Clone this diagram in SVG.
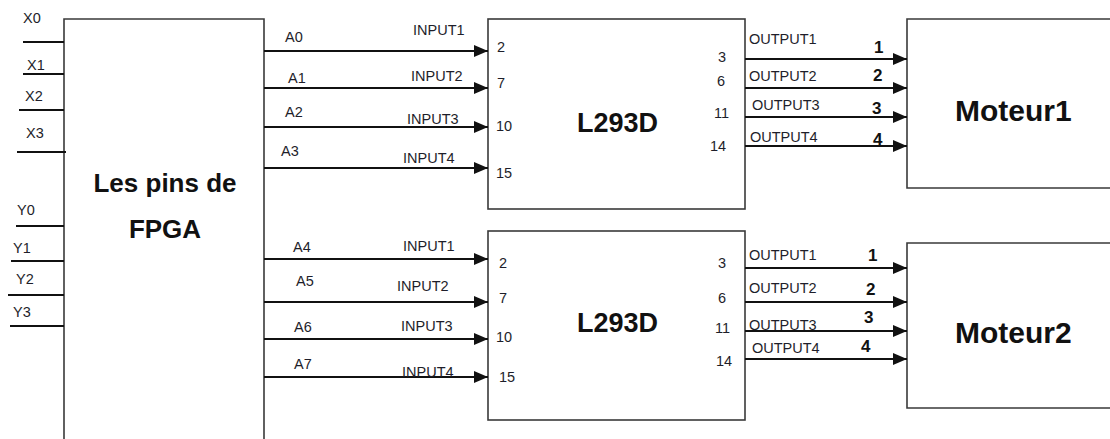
<svg xmlns="http://www.w3.org/2000/svg" width="1110" height="439" viewBox="0 0 1110 439">
<style>
.box{fill:#fff;stroke:#3a3a3a;stroke-width:1.6}
.w{stroke:#111;stroke-width:2;fill:none}
.a{stroke:#111;stroke-width:2;fill:none;marker-end:url(#ah)}
.s{font-family:"Liberation Sans",Arial,sans-serif;font-size:14.5px;fill:#1e1e2a}
.n{font-family:"Liberation Sans",Arial,sans-serif;font-size:17px;font-weight:bold;fill:#111}
.big{font-family:"Liberation Sans",Arial,sans-serif;font-weight:bold;fill:#111}
</style>
<defs>
<marker id="ah" viewBox="0 0 14 12" refX="14" refY="6" markerWidth="14" markerHeight="12" markerUnits="userSpaceOnUse" orient="auto">
<path d="M0,0 L14,6 L0,12 z" fill="#111"/>
</marker>
</defs>
<rect width="1110" height="439" fill="#fff"/>

<g id="fpga">
<path class="box" d="M64,445 V19 H264 V445"/>
<text class="big" x="165" y="192" font-size="26" text-anchor="middle">Les pins de</text>
<text class="big" x="165" y="238" font-size="26" text-anchor="middle">FPGA</text>
</g>

<g id="l293d-1">
<rect class="box" x="488" y="19" width="257" height="190"/>
<text class="big" x="577" y="132" font-size="27">L293D</text>
<text class="s" x="497" y="52">2</text>
<text class="s" x="497" y="88">7</text>
<text class="s" x="496" y="131">10</text>
<text class="s" x="496" y="178">15</text>
<text class="s" x="718" y="62">3</text>
<text class="s" x="717" y="86">6</text>
<text class="s" x="714" y="118">11</text>
<text class="s" x="710" y="151">14</text>
</g>

<g id="l293d-2">
<rect class="box" x="488" y="231" width="257" height="189"/>
<text class="big" x="577" y="332" font-size="27">L293D</text>
<text class="s" x="499" y="268">2</text>
<text class="s" x="499" y="303">7</text>
<text class="s" x="496" y="342">10</text>
<text class="s" x="499" y="382">15</text>
<text class="s" x="718" y="268">3</text>
<text class="s" x="718" y="303">6</text>
<text class="s" x="715" y="333">11</text>
<text class="s" x="716" y="366">14</text>
</g>

<g id="moteur1">
<path class="box" d="M1115,19 H907 V188 H1115"/>
<text class="big" x="955" y="121" font-size="30">Moteur1</text>
</g>

<g id="moteur2">
<path class="box" d="M1115,243 H907 V408 H1115"/>
<text class="big" x="955" y="343" font-size="30">Moteur2</text>
</g>

<g id="connectors">
<line class="w" x1="23" y1="42" x2="64" y2="42"/>
<line class="w" x1="23" y1="74" x2="64" y2="74"/>
<line class="w" x1="19" y1="110" x2="64" y2="110"/>
<line class="w" x1="17" y1="152" x2="66" y2="152"/>
<line class="w" x1="16" y1="226" x2="64" y2="226"/>
<line class="w" x1="11" y1="261" x2="64" y2="261"/>
<line class="w" x1="8" y1="295" x2="64" y2="295"/>
<line class="w" x1="10" y1="326" x2="64" y2="326"/>

<line class="a" x1="264" y1="51" x2="488" y2="51"/>
<line class="a" x1="264" y1="88" x2="488" y2="88"/>
<line class="a" x1="264" y1="127" x2="488" y2="127"/>
<line class="a" x1="264" y1="168" x2="488" y2="168"/>
<line class="a" x1="264" y1="259" x2="488" y2="259"/>
<line class="a" x1="264" y1="302" x2="488" y2="302"/>
<line class="a" x1="264" y1="339" x2="488" y2="339"/>
<line class="a" x1="264" y1="377" x2="488" y2="377"/>

<line class="a" x1="745" y1="59" x2="907" y2="59"/>
<line class="a" x1="745" y1="88" x2="907" y2="88"/>
<line class="a" x1="745" y1="117" x2="907" y2="117"/>
<line class="a" x1="745" y1="146" x2="907" y2="146"/>
<line class="a" x1="745" y1="268" x2="907" y2="268"/>
<line class="a" x1="745" y1="302" x2="907" y2="302"/>
<line class="a" x1="745" y1="331" x2="907" y2="331"/>
<line class="a" x1="745" y1="359" x2="907" y2="359"/>
</g>

<g id="labels">
<text class="s" x="23" y="23">X0</text>
<text class="s" x="27" y="70">X1</text>
<text class="s" x="25" y="101">X2</text>
<text class="s" x="26" y="138">X3</text>
<text class="s" x="17" y="215">Y0</text>
<text class="s" x="13" y="253">Y1</text>
<text class="s" x="16" y="284">Y2</text>
<text class="s" x="13" y="317">Y3</text>

<text class="s" x="285" y="42">A0</text>
<text class="s" x="288" y="83">A1</text>
<text class="s" x="285" y="117">A2</text>
<text class="s" x="281" y="156">A3</text>
<text class="s" x="293" y="252">A4</text>
<text class="s" x="296" y="286">A5</text>
<text class="s" x="294" y="332">A6</text>
<text class="s" x="294" y="369">A7</text>

<text class="s" x="413" y="35">INPUT1</text>
<text class="s" x="411" y="81">INPUT2</text>
<text class="s" x="407" y="124">INPUT3</text>
<text class="s" x="403" y="163">INPUT4</text>
<text class="s" x="403" y="251">INPUT1</text>
<text class="s" x="397" y="291">INPUT2</text>
<text class="s" x="401" y="331">INPUT3</text>
<text class="s" x="402" y="377">INPUT4</text>

<text class="s" x="749" y="44">OUTPUT1</text>
<text class="s" x="749" y="81">OUTPUT2</text>
<text class="s" x="752" y="110">OUTPUT3</text>
<text class="s" x="750" y="142">OUTPUT4</text>
<text class="s" x="749" y="260">OUTPUT1</text>
<text class="s" x="749" y="293">OUTPUT2</text>
<text class="s" x="749" y="330">OUTPUT3</text>
<text class="s" x="752" y="353">OUTPUT4</text>

<text class="n" x="874" y="53">1</text>
<text class="n" x="873" y="81">2</text>
<text class="n" x="872" y="114">3</text>
<text class="n" x="873" y="145">4</text>
<text class="n" x="868" y="261">1</text>
<text class="n" x="866" y="295">2</text>
<text class="n" x="864" y="323">3</text>
<text class="n" x="861" y="352">4</text>
</g>
</svg>
